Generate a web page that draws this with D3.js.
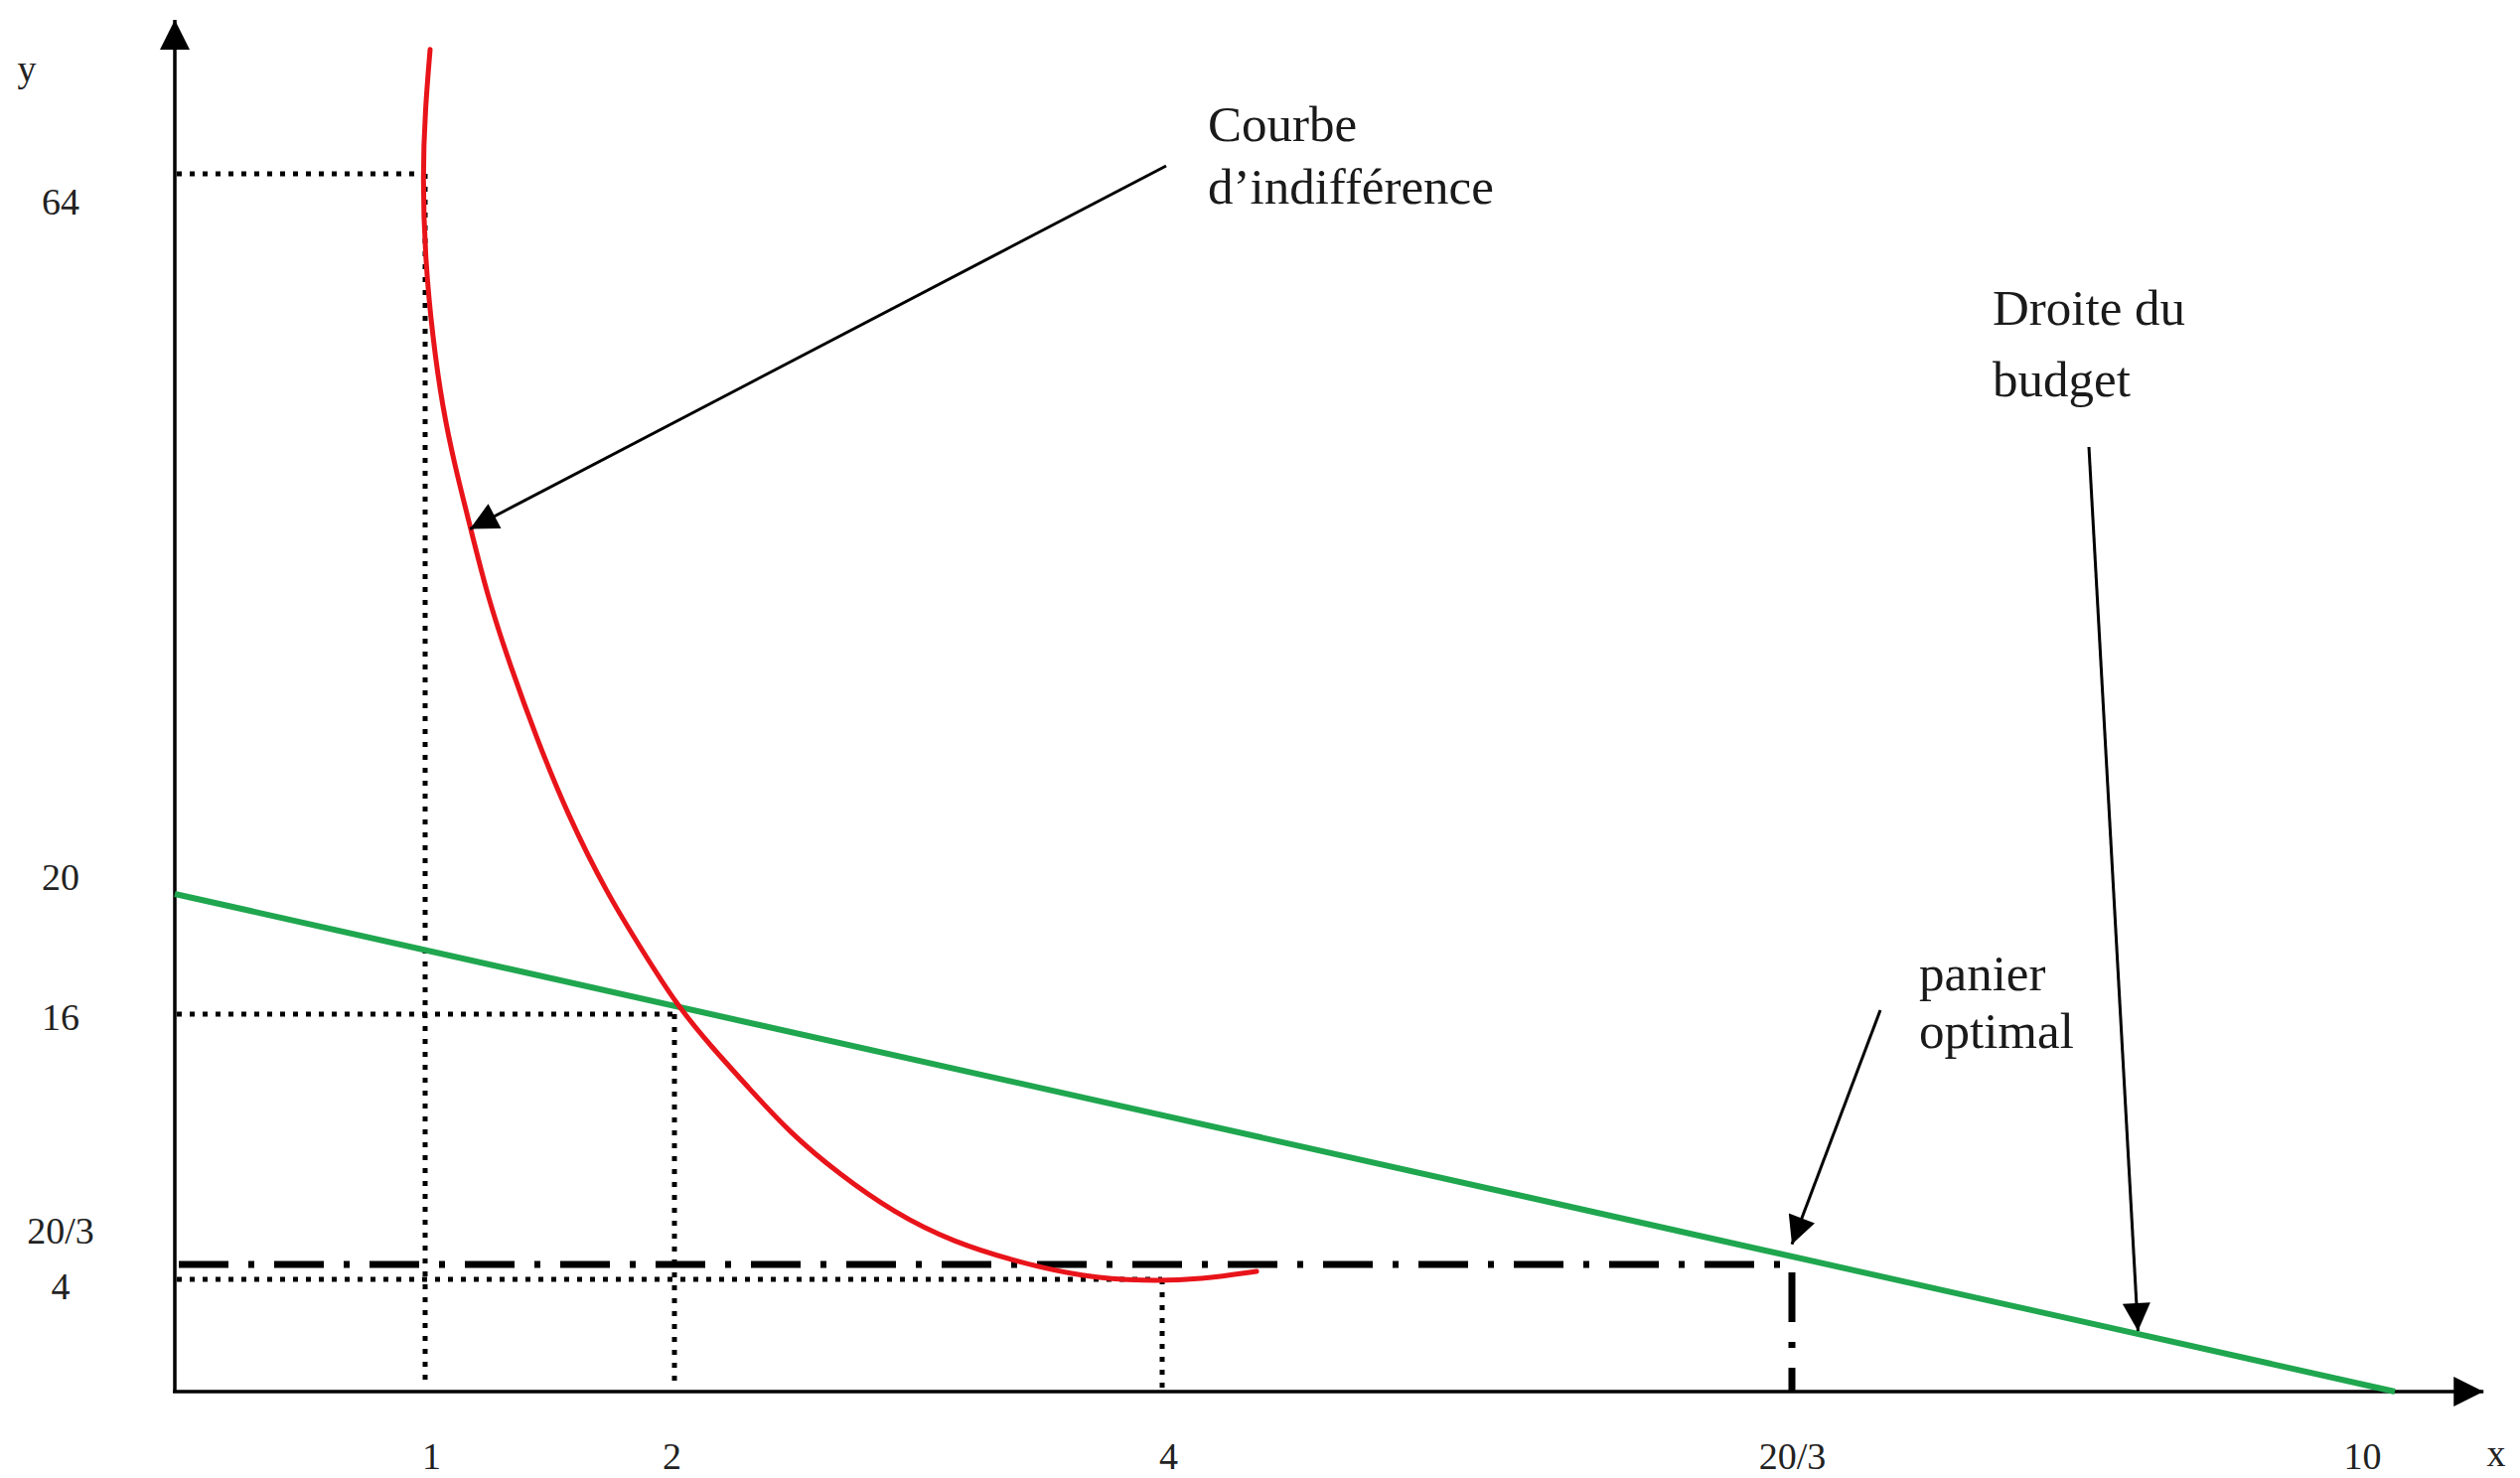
<!DOCTYPE html>
<html>
  <head>
    <meta charset="utf-8">
    <title>Courbe d'indifférence et droite du budget</title>
    <script src="https://cdnjs.cloudflare.com/ajax/libs/d3/7.8.5/d3.min.js"></script>
    <style>
      body { margin: 0; background: #fff; }
      text { font-family: "Liberation Serif", "DejaVu Serif", serif; }
    </style>
  </head>
  <body>

    <script>
      // repères des axes : le dessin n'est pas à l'échelle, d'où des échelles par morceaux
      var xStops = [0, 1, 2, 4, 20/3, 10];
      var yStops = [0, 4, 20/3, 16, 20, 64];

      var xTicks = [1, 2, 4, 20/3, 10];
      var xTickLabels = ["1", "2", "4", "20/3", "10"];
      var yTicks = [64, 20, 16, 20/3, 4];
      var yTickLabels = ["64", "20", "16", "20/3", "4"];

      // droite du budget 2x + y = 20
      var budgetX = [0, 10];
      var budgetY = [20, 0];

      // courbe d'indifférence, relevée point par point sur le dessin
      var courbeX = [1.02, 1.00, 0.99, 1.00, 1.03, 1.07, 1.12, 1.18, 1.25, 1.34, 1.45, 1.57, 1.73,
                     1.88, 2.01, 2.15, 2.30, 2.47, 2.68, 2.90, 3.14, 3.43, 3.67, 3.92, 4.17, 4.40];
      var courbeY = [71.6, 67.9, 63.9, 58.8, 54.0, 49.7, 46.1, 42.5, 38.2, 34.0, 29.4, 24.9, 20.0,
                     18.0, 16.3, 14.8, 13.3, 11.6, 10.0, 8.6, 7.5, 6.7, 4.53, 3.93, 4.0, 5.42];

      // pointillés de lecture (x, y)
      var guideX = [1, 2, 4];
      var guideY = [64, 16, 4];

      // panier optimal
      var optimumX = 20/3;
      var optimumY = 20/3;

      var width = 2537, height = 1488;

      var canvas = d3.select("body").append("svg")
               .attr("width", width)
               .attr("height", height);

      var x = d3.scaleLinear().domain(xStops).range([176, 428, 679, 1170, 1804, 2411]);
      var y = d3.scaleLinear().domain(yStops).range([1401, 1288, 1273, 1021, 900, 175]);

      var xEnd = 10.49, yEnd = 73.4;   // bout des flèches des axes

      var defs = canvas.append("defs");
      function marker(id, w, h){
        defs.append("marker")
            .attr("id", id)
            .attr("viewBox", "0 0 10 10")
            .attr("refX", 10).attr("refY", 5)
            .attr("markerWidth", w).attr("markerHeight", h)
            .attr("markerUnits", "userSpaceOnUse")
            .attr("orient", "auto")
          .append("path")
            .attr("d", "M0,0L10,5L0,10Z")
            .attr("fill", "#000");
      }
      marker("axisHead", 32, 30);
      marker("noteHead", 34, 28);

      //pointillés
      var dots = canvas.append("g")
          .attr("stroke", "#000")
          .attr("stroke-width", 5)
          .attr("stroke-dasharray", "5 8")
          .attr("fill", "none");

      dots.selectAll("line.h").data(guideY).enter().append("line")
          .attr("class", "h")
          .attr("x1", x(0) + 2)
          .attr("x2", function(d, i){ return x(guideX[i]); })
          .attr("y1", function(d){ return y(d); })
          .attr("y2", function(d){ return y(d); });

      dots.selectAll("line.v").data(guideX).enter().append("line")
          .attr("class", "v")
          .attr("x1", function(d){ return x(d); })
          .attr("x2", function(d){ return x(d); })
          .attr("y1", function(d, i){ return y(guideY[i]); })
          .attr("y2", y(0) - 4);

      // tirets-points jusqu'au panier optimal
      canvas.append("path")
          .attr("d", d3.line()([[x(0) + 4, y(optimumY)], [x(optimumX), y(optimumY)], [x(optimumX), y(0)]]))
          .attr("fill", "none")
          .attr("stroke", "#000")
          .attr("stroke-width", 7)
          .attr("stroke-dasharray", "50 20 6 20");

      // axes
      canvas.append("line")
          .attr("x1", x(0)).attr("y1", y(0))
          .attr("x2", x(0)).attr("y2", y(yEnd))
          .attr("stroke", "#000").attr("stroke-width", 3.5)
          .attr("marker-end", "url(#axisHead)");
      canvas.append("line")
          .attr("x1", x(0) - 2).attr("y1", y(0))
          .attr("x2", x(xEnd)).attr("y2", y(0))
          .attr("stroke", "#000").attr("stroke-width", 3.5)
          .attr("marker-end", "url(#axisHead)");

      var xNudge = [6, -3, 6, 0, -33];
      var yNudge = [27, -18, 2, -35, 6];

      var gx = canvas.append("g")
          .attr("transform", "translate(0," + y(0) + ")")
          .call(d3.axisBottom(x).tickValues(xTicks)
                 .tickFormat(function(d, i){ return xTickLabels[i]; })
                 .tickSize(0));
      gx.select(".domain").remove();
      gx.selectAll("text")
          .attr("y", 65)
          .attr("dy", null)
          .attr("x", function(d, i){ return xNudge[i]; })
          .attr("dominant-baseline", "central");

      var gy = canvas.append("g")
          .attr("transform", "translate(" + x(0) + ",0)")
          .call(d3.axisLeft(y).tickValues(yTicks)
                 .tickFormat(function(d, i){ return yTickLabels[i]; })
                 .tickSize(0));
      gy.select(".domain").remove();
      gy.selectAll("text")
          .attr("x", -115)
          .attr("dy", null)
          .attr("y", function(d, i){ return yNudge[i]; })
          .attr("text-anchor", "middle")
          .attr("dominant-baseline", "central");

      canvas.selectAll(".tick text")
          .attr("font-family", "Liberation Serif, serif")
          .attr("font-size", 38)
          .attr("fill", "#222");

      canvas.append("text").attr("x", 27).attr("y", 82)
          .attr("text-anchor", "middle").attr("font-size", 38).attr("fill", "#222").text("y");
      canvas.append("text").attr("x", 2513).attr("y", 1476)
          .attr("text-anchor", "middle").attr("font-size", 38).attr("fill", "#222").text("x");

      // droite du budget
      canvas.append("path")
          .datum(budgetX.map(function(d, i){ return [d, budgetY[i]]; }))
          .attr("d", d3.line().x(function(d){ return x(d[0]); }).y(function(d){ return y(d[1]); }))
          .attr("fill", "none")
          .attr("stroke", "#1fa64f")
          .attr("stroke-width", 6);

      // courbe d'indifférence (lissée)
      canvas.append("path")
          .datum(courbeX.map(function(d, i){ return [d, courbeY[i]]; }))
          .attr("d", d3.line().x(function(d){ return x(d[0]); }).y(function(d){ return y(d[1]); })
                  .curve(d3.curveBasis))
          .attr("fill", "none")
          .attr("stroke", "#e8141a")
          .attr("stroke-width", 5)
          .attr("stroke-linecap", "round");

      // annotations
      var notes = [
        {lines: ["Courbe", "d\u2019indifférence"], tx: 1216, ty: 142, gap: 63, from: [1174, 167], to: [1.18, 42.3]},
        {lines: ["Droite du", "budget"], tx: 2006, ty: 327, gap: 72, from: [2103, 450], to: [8.58, 2.16]},
        {lines: ["panier", "optimal"], tx: 1932, ty: 997, gap: 58, from: [1893, 1017], to: [optimumX, 7.42]}
      ];

      notes.forEach(function(n){
        var t = canvas.append("text")
            .attr("x", n.tx).attr("y", n.ty)
            .attr("font-size", 51)
            .attr("fill", "#1a1a1a");
        n.lines.forEach(function(s, i){
          t.append("tspan").attr("x", n.tx).attr("y", n.ty + i * n.gap).text(s);
        });
        canvas.append("line")
            .attr("x1", n.from[0]).attr("y1", n.from[1])
            .attr("x2", x(n.to[0])).attr("y2", y(n.to[1]))
            .attr("stroke", "#000")
            .attr("stroke-width", 3)
            .attr("marker-end", "url(#noteHead)");
      });

    </script>

  </body>
</html>
